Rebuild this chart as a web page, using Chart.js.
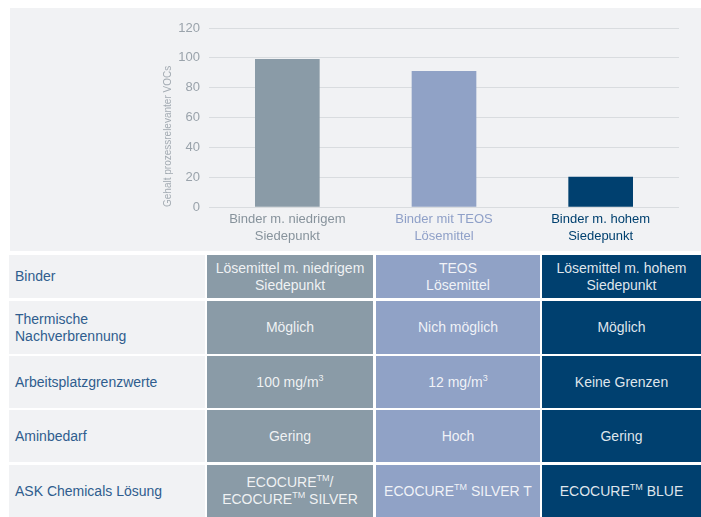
<!DOCTYPE html>
<html>
<head>
<meta charset="utf-8">
<script src="https://cdn.jsdelivr.net/npm/chart.js@4.4.1/dist/chart.umd.min.js"></script>
<style>
    body{margin:0;width:701px;height:517px;background:#fff;position:relative;overflow:hidden;font-family:"Liberation Sans",Arial,sans-serif;}
    #panel{position:absolute;left:10px;top:8px;width:691px;height:243px;background:#f1f2f4;}
    .cell{position:absolute;display:flex;align-items:center;justify-content:center;text-align:center;font-size:14px;line-height:17px;color:rgba(255,255,255,0.88);box-sizing:border-box;}
    .lbl{justify-content:flex-start;text-align:left;padding-left:6px;background:#f1f2f4;color:#2f5d8e;}
    sup{font-size:9px;line-height:0;vertical-align:6px;}
</style>
</head>
<body>
<div id="panel"><canvas id="vocChart" width="691" height="243"></canvas></div>
<div id="table"></div>
<script>
// daten diagramm
const categories=[['Binder m. niedrigem','Siedepunkt'],['Binder mit TEOS','Lösemittel'],['Binder m. hohem','Siedepunkt']];
const vocValues=[99,91,20];
const barColors=['#8a9ba7','#90a2c6','#00406f'];
const labelColors=['#87939c','#8fa0c8','#00406f'];
const yTicks=[0,20,40,60,80,100,120];

// daten tabelle
const rowLabels=['Binder','Thermische<br>Nachverbrennung','Arbeitsplatzgrenzwerte','Aminbedarf','ASK Chemicals Lösung'];
const colNiedrig=['Lösemittel m. niedrigem<br>Siedepunkt','Möglich','100 mg/m<sup>3</sup>','Gering','ECOCURE<sup>TM</sup>/<br>ECOCURE<sup>TM</sup> SILVER'];
const colTeos=['TEOS<br>Lösemittel','Nich möglich','12 mg/m<sup>3</sup>','Hoch','ECOCURE<sup>TM</sup> SILVER T'];
const colHoch=['Lösemittel m. hohem<br>Siedepunkt','Möglich','Keine Grenzen','Gering','ECOCURE<sup>TM</sup> BLUE'];

const rowTop=[255,301,356,410,465];
const rowH=[43,53,52,52,52];
const colLeft=[9,207,376,542];
const colW=[196,166,164,159];

const ctx=document.getElementById('vocChart').getContext('2d');
const myChart=new Chart(ctx,{
    type:'bar',
    data:{
        labels:categories,
        datasets:[{
            label:'Gehalt prozessrelevanter VOCs',
            data:vocValues,
            backgroundColor:barColors,
            barThickness:64
        }]
    },
    options:{
        responsive:false,
        animation:false,
        devicePixelRatio:1,
        layout:{padding:{left:140,right:22,top:20,bottom:0}},
        plugins:{legend:{display:false},tooltip:{enabled:false}},
        scales:{
            x:{
                grid:{display:false,drawTicks:false},
                border:{display:false},
                ticks:{
                    padding:4,
                    maxRotation:0,
                    color:(c)=>labelColors[c.index],
                    font:{family:'"Liberation Sans", Arial',size:13,lineHeight:1.3}
                },
                afterFit:(s)=>{s.height=44}
            },
            y:{
                min:0,
                max:120,
                afterBuildTicks:(s)=>{s.ticks=yTicks.map(v=>({value:v}))},
                grid:{color:'#d9dcdf',drawTicks:false,lineWidth:1},
                border:{display:false},
                ticks:{
                    padding:9,
                    color:'#9aa3ab',
                    font:{family:'"Liberation Sans", Arial',size:13}
                },
                title:{
                    display:true,
                    text:'Gehalt prozessrelevanter VOCs',
                    align:'start',
                    color:'#a3abb2',
                    padding:{top:12,bottom:0},
                    font:{family:'"Liberation Sans", Arial',size:10}
                },
                afterFit:(s)=>{s.width=59}
            }
        }
    }
});

// tabelle zeichnen
const table=document.getElementById('table');
const cols=[rowLabels,colNiedrig,colTeos,colHoch];
const colBg=['#f1f2f4','#8a9ba7','#90a2c6','#00406f'];
rowLabels.forEach((item,r)=>{
    cols.forEach((col,c)=>{
        let d=document.createElement('div');
        d.className=c==0?'cell lbl':'cell';
        d.style.left=colLeft[c]+'px';
        d.style.top=rowTop[r]+'px';
        d.style.width=colW[c]+'px';
        d.style.height=rowH[r]+'px';
        d.style.background=colBg[c];
        d.innerHTML='<span>'+col[r]+'</span>';
        table.appendChild(d);
    })
})
</script>
</body>
</html>
